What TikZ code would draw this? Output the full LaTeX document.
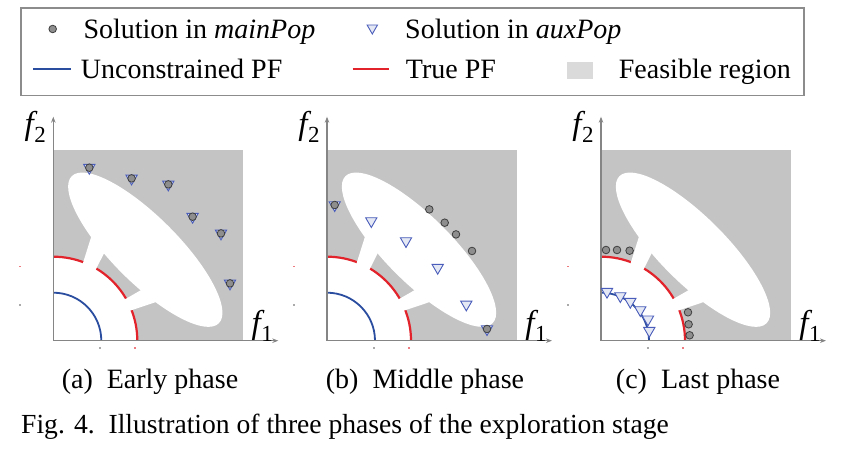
\documentclass[tikz,border=0pt]{standalone}
\usepackage{fontspec}
\setmainfont{Liberation Serif}
\usetikzlibrary{arrows.meta,shapes.geometric}
\definecolor{feas}{HTML}{C4C4C4}
\definecolor{feaslg}{HTML}{DADADA}
\definecolor{pfred}{HTML}{E3232B}
\definecolor{pfblue}{HTML}{2B4DA0}
\definecolor{circf}{HTML}{8E8E8E}
\definecolor{circd}{HTML}{3E3E3E}
\definecolor{trid}{HTML}{4A5DBA}
\definecolor{trif}{HTML}{E4E8F4}
\definecolor{axisc}{HTML}{858585}
\definecolor{boxc}{HTML}{8C8C8C}
\newcommand\drawpanelbase{%
  \fill[feas] (0,0) rectangle (190,191);
  \begin{scope}[shift={(92,91)},rotate=-45]
    \fill[white] (0,0) ellipse [x radius=104pt, y radius=33pt];
  \end{scope}
  \fill[white] (0,0) -- (84,0) arc[start angle=0,end angle=90,radius=84pt] -- cycle;
  \draw[truepf] (84,0) arc[start angle=0,end angle=90,radius=84pt];
  \fill[white] (27,69.2) -- (40.9,113.4) -- (55.4,96.7) -- (38.8,63.8) -- cycle;
  \fill[white] (64,37) -- (97.1,56) -- (114.1,42.5) -- (67.2,26.8) -- cycle;
  \draw[uncpf] (48,0) arc[start angle=0,end angle=90,radius=48pt];
  \coordinate (o) at (0,0);
  \coordinate (xe) at (225,0);
  \coordinate (ye) at (0,224);
  \draw[axis] (o) -- (xe);
  \draw[axis] (o) -- (ye);
  \fill[pfred!60] (-34.3,73.5) rectangle (-32.3,75);
  \fill[axisc!70] (-34.3,35) rectangle (-32.3,36.5);
  \fill[axisc!70] (46,-8.5) rectangle (47.5,-6.5);
  \fill[pfred!60] (81,-8.5) rectangle (82.5,-6.5);
  \node[flab] (f2) at (-18,214) {\itshape f\kern0.5pt\raisebox{-8pt}{\fontsize{23}{23}\selectfont\upshape 2}};
  \node[flab] (f1) at (209,15) {\itshape f\kern0.5pt\raisebox{-8pt}{\fontsize{23}{23}\selectfont\upshape 1}};
}
\begin{document}
\begin{tikzpicture}[x=1pt,y=1pt,
  axis/.style={draw=axisc, line width=1.1pt, -{Stealth[length=6pt,width=4.5pt]}},
  truepf/.style={draw=pfred, line width=2.2pt},
  uncpf/.style={draw=pfblue, line width=1.8pt},
  maincirc/.style={circle, draw=circd, fill=circf, line width=0.8pt, minimum size=7.6pt, inner sep=0pt},
  tri/.style={regular polygon, regular polygon sides=3, shape border rotate=180, draw=trid, fill=trif, line width=0.9pt, minimum size=13pt, inner sep=0pt},
  flab/.style={font=\fontsize{33}{34}\selectfont, inner sep=0pt},
  lgtext/.style={font=\fontsize{28}{32}\selectfont, anchor=base west, inner sep=0pt},
  captext/.style={font=\fontsize{28}{32}\selectfont, anchor=base, inner sep=0pt}]
\useasboundingbox (0,0) rectangle (846,454);
% legend
\draw[boxc, line width=1.4pt] (21,358.5) rectangle (804,446);
\node[maincirc] (lgc) at (52.7,425) {};
\node[lgtext] (lgct) at (83.3,415) {Solution in \textit{mainPop}};
\node[tri, minimum size=12pt] (lgt) at (372.3,426) {};
\node[lgtext] (lgtt) at (405,415) {Solution in \textit{auxPop}};
\coordinate (lgb1) at (33.3,385);
\coordinate (lgb2) at (70.7,385);
\draw[pfblue, line width=1.8pt] (lgb1) -- (lgb2);
\node[lgtext] (lgbt) at (80.7,375.5) {Unconstrained PF};
\coordinate (lgr1) at (352.7,385);
\coordinate (lgr2) at (389.3,385);
\draw[pfred, line width=1.8pt] (lgr1) -- (lgr2);
\node[lgtext] (lgrt) at (405.7,375.5) {True PF};
\fill[feaslg] (567.3,374.7) rectangle (593.3,392.3);
\node[lgtext] (lgft) at (618.7,375.5) {Feasible region};
% panel (a)
\begin{scope}[shift={(53.3,113.3)}, name prefix=pa-]
  \drawpanelbase
  \foreach \p [count=\i] in {(36,173),(78.3,162.3),(115,156.3),(139.3,124),(167.7,107.3),(176.7,57.3)}{
    \node[tri] (t\i) at \p {};
    \node[maincirc] (c\i) at \p {};
  }
\end{scope}
% panel (b)
\begin{scope}[shift={(327,113.3)}, name prefix=pb-]
  \drawpanelbase
  \foreach \p [count=\i] in {(7.7,135.7),(160,11.7)}{
    \node[tri] (tc\i) at \p {};
    \node[maincirc] (cc\i) at \p {};
  }
  \foreach \p [count=\i] in {(44.3,119.7),(79,99.7),(110.7,73),(139.3,36.3)}{
    \node[tri] (t\i) at \p {};
  }
  \foreach \p [count=\i] in {(102.3,131.3),(117.7,118),(129,106.3),(145,89.7)}{
    \node[maincirc] (c\i) at \p {};
  }
\end{scope}
% panel (c)
\begin{scope}[shift={(601,113.3)}, name prefix=pc-]
  \drawpanelbase
  \foreach \p [count=\i] in {(5,90.7),(16,90.7),(28.6,90),(87,28.4),(87.6,16.4),(88.6,5.4)}{
    \node[maincirc] (c\i) at \p {};
  }
  \foreach \p [count=\i] in {(6,49),(19.3,44.7),(29.3,39),(39.3,30.7),(47,21.4),(48.3,10)}{
    \node[tri] (t\i) at \p {};
  }
\end{scope}
% captions
\node[captext] (capa) at (150,65.5) {(a)\ \ Early phase};
\node[captext] (capb) at (425,65.5) {(b)\ \ Middle phase};
\node[captext] (capc) at (698,65.5) {(c)\ \ Last phase};
\node[lgtext, font=\fontsize{27.6}{32}\selectfont] (fig) at (21,20.5) {Fig. 4.\ \ Illustration of three phases of the exploration stage};
\end{tikzpicture}
\end{document}
